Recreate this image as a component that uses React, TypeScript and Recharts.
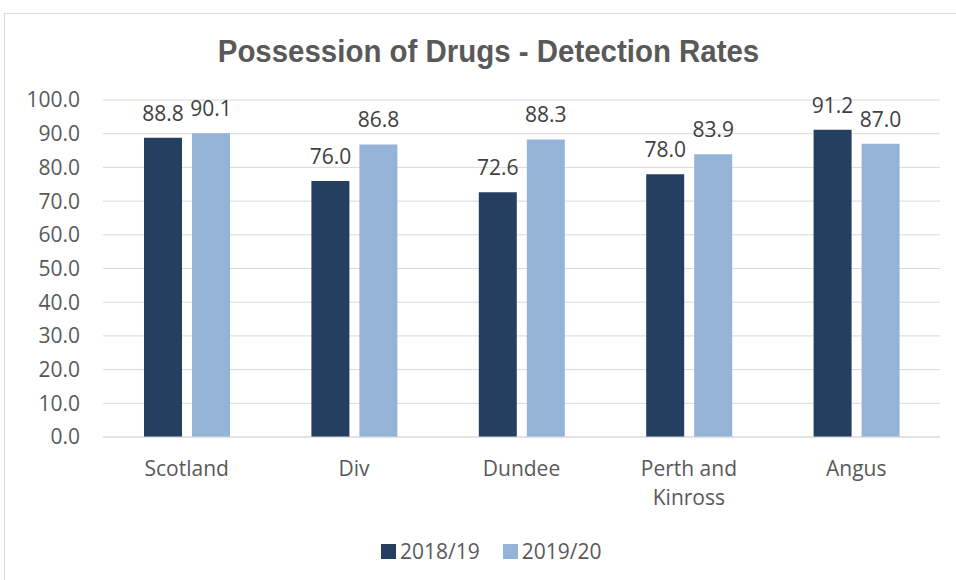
import React from 'react';
import { BarChart, Bar, XAxis, YAxis, CartesianGrid, LabelList, Text } from 'recharts';

const categories = ['Scotland', 'Div', 'Dundee', 'Perth and Kinross', 'Angus'];
const rates1819 = [88.8, 76.0, 72.6, 78.0, 91.2];
const rates1920 = [90.1, 86.8, 88.3, 83.9, 87.0];
const yTicks = [0, 10, 20, 30, 40, 50, 60, 70, 80, 90, 100];

const seriesNames = ['2018/19', '2019/20'];
const DARK = '#253F60';
const LIGHT = '#95B3D7';
const GREY = '#595959';
const FONT = '"Open Sans", "Noto Sans", sans-serif';
const FS = 21;

const data = categories.map((name, i) => ({
  name,
  a: rates1819[i],
  b: rates1920[i],
}));

// wraps "Perth and Kinross" onto two lines like the original
const CategoryTick = ({ x, y, payload }: any) => (
  <Text
    x={x}
    y={y}
    width={120}
    textAnchor="middle"
    verticalAnchor="start"
    lineHeight={29}
    fill={GREY}
    fontSize={FS}
    fontFamily={FONT}
    style={{ fontSize: FS, fontFamily: FONT }}
  >
    {payload.value}
  </Text>
);

export default function App() {
  return (
    <div
      style={{
        position: 'fixed',
        left: 0,
        top: 0,
        width: 956,
        height: 580,
        overflow: 'hidden',
        background: '#fff',
        fontFamily: FONT,
      }}
    >
      {/* chart frame, runs off the edge like the original crop */}
      <div
        style={{
          position: 'absolute',
          left: 4,
          top: 13,
          width: 1000,
          height: 700,
          border: '1px solid #d9d9d9',
        }}
      />
      <div
        style={{
          position: 'absolute',
          left: 0,
          top: 33,
          width: 977,
          textAlign: 'center',
          fontFamily: '"Liberation Sans", Arial, sans-serif',
          fontWeight: 'bold',
          fontSize: 32,
          color: GREY,
          transform: 'scaleX(0.92)',
          transformOrigin: '488.5px 0',
          whiteSpace: 'nowrap',
        }}
      >
        Possession of Drugs - Detection Rates
      </div>

      <div style={{ position: 'absolute', left: 0, top: 0 }}>
        <BarChart
          width={956}
          height={580}
          data={data}
          margin={{ top: 100, right: 16, bottom: 113, left: 0 }}
          barGap={10}
          barSize={38}
        >
          <CartesianGrid vertical={false} stroke="#d9d9d9" />
          <XAxis
            dataKey="name"
            height={30}
            tickLine={false}
            axisLine={{ stroke: '#d9d9d9' }}
            tickSize={0}
            tickMargin={24}
            interval={0}
            tick={<CategoryTick />}
          />
          <YAxis
            width={103}
            domain={[0, 100]}
            ticks={yTicks}
            axisLine={false}
            tickLine={false}
            tickSize={0}
            tickMargin={23}
            tickFormatter={(v: number) => v.toFixed(1)}
            tick={{ fill: GREY, fontSize: FS, fontFamily: FONT }}
          />
          <Bar dataKey="a" name={seriesNames[0]} fill={DARK} isAnimationActive={false}>
            <LabelList
              dataKey="a"
              position="top"
              offset={17}
              formatter={(v: number) => v.toFixed(1)}
              fill="#404040"
              fontSize={FS}
              fontFamily={FONT}
            />
          </Bar>
          <Bar dataKey="b" name={seriesNames[1]} fill={LIGHT} isAnimationActive={false}>
            <LabelList
              dataKey="b"
              position="top"
              offset={17}
              formatter={(v: number) => v.toFixed(1)}
              fill="#404040"
              fontSize={FS}
              fontFamily={FONT}
            />
          </Bar>
        </BarChart>
      </div>

      {/* legend */}
      <div
        style={{
          position: 'absolute',
          left: 381,
          top: 537,
          display: 'flex',
          gap: 23,
          fontSize: FS,
          color: GREY,
          lineHeight: '28px',
          whiteSpace: 'nowrap',
        }}
      >
        {seriesNames.map((s, i) => (
          <div key={s} style={{ display: 'flex', alignItems: 'center' }}>
            <span
              style={{
                display: 'inline-block',
                width: 15,
                height: 15,
                background: i === 0 ? DARK : LIGHT,
                marginRight: 4,
              }}
            />
            {s}
          </div>
        ))}
      </div>
    </div>
  );
}
